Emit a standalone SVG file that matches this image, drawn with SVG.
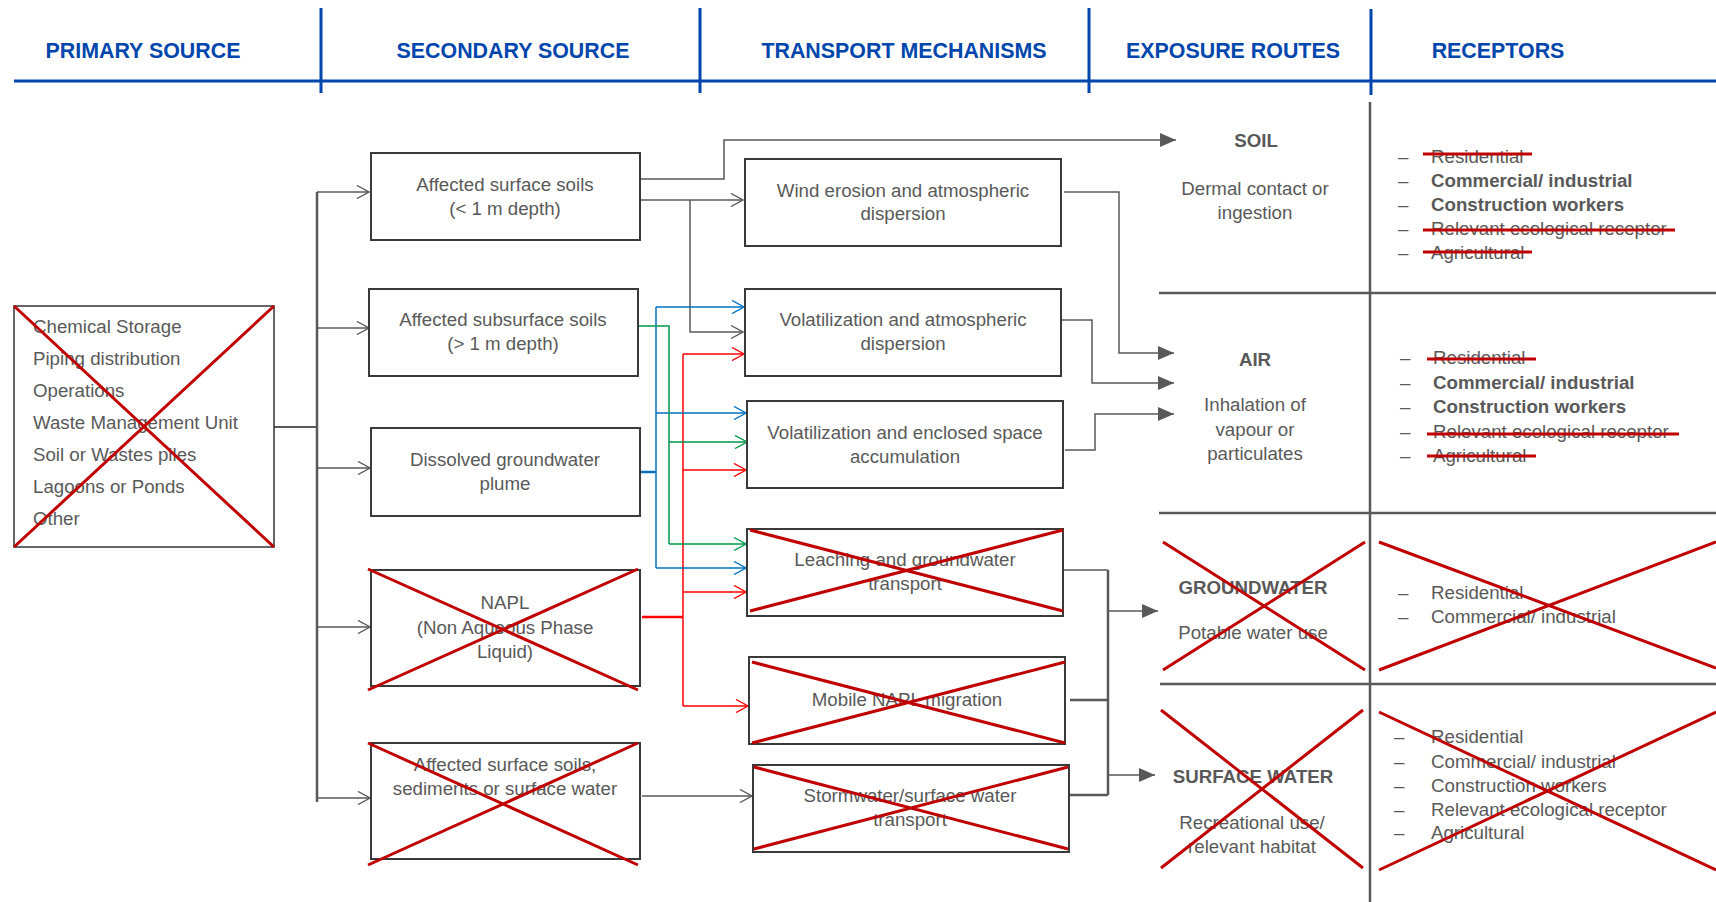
<svg xmlns="http://www.w3.org/2000/svg" width="1716" height="902" viewBox="0 0 1716 902">
<style>
text{font-family:"Liberation Sans",Arial,sans-serif;font-size:18.7px;fill:#595959}
.hd{font-size:21.4px;font-weight:bold;fill:#0046ad;text-anchor:middle}
.c{text-anchor:middle}
.b{font-weight:bold}
.hl{stroke:#0046ad;stroke-width:3;fill:none}
.box{fill:#fff;stroke:#3a3a3a;stroke-width:2}
.x{stroke:#c00000;stroke-width:3;fill:none}
.g{stroke:#595959;stroke-width:1.5;fill:none}
.gt{stroke:#595959;stroke-width:2.5;fill:none}
.r{stroke:#ff0000;stroke-width:1.5;fill:none}
.bl{stroke:#0070c0;stroke-width:1.5;fill:none}
.gr{stroke:#00984a;stroke-width:1.5;fill:none}
.grid{stroke:#595959;stroke-width:2.5;fill:none}
</style>
<defs>
<marker id="og" viewBox="0 0 14 14" refX="13" refY="7" markerWidth="14" markerHeight="14" markerUnits="userSpaceOnUse" orient="auto"><path d="M1,0.5 L13,7 L1,13.5" fill="none" stroke="#595959" stroke-width="1.4"/></marker>
<marker id="or" viewBox="0 0 14 14" refX="13" refY="7" markerWidth="14" markerHeight="14" markerUnits="userSpaceOnUse" orient="auto"><path d="M1,0.5 L13,7 L1,13.5" fill="none" stroke="#ff0000" stroke-width="1.4"/></marker>
<marker id="ob" viewBox="0 0 14 14" refX="13" refY="7" markerWidth="14" markerHeight="14" markerUnits="userSpaceOnUse" orient="auto"><path d="M1,0.5 L13,7 L1,13.5" fill="none" stroke="#0070c0" stroke-width="1.4"/></marker>
<marker id="ogr" viewBox="0 0 14 14" refX="13" refY="7" markerWidth="14" markerHeight="14" markerUnits="userSpaceOnUse" orient="auto"><path d="M1,0.5 L13,7 L1,13.5" fill="none" stroke="#00984a" stroke-width="1.4"/></marker>
<marker id="fg" viewBox="0 0 16 14" refX="16" refY="7" markerWidth="16" markerHeight="14" markerUnits="userSpaceOnUse" orient="auto"><path d="M0,0 L16,7 L0,14 Z" fill="#595959"/></marker>
</defs>
<rect width="1716" height="902" fill="#fff"/>

<g id="header">
<path class="hl" d="M14,81 H1716 M321,8 V93 M700,8 V93 M1089,8 V93 M1371,9 V95"/>
<text class="hd" x="143" y="58">PRIMARY SOURCE</text>
<text class="hd" x="513" y="58">SECONDARY SOURCE</text>
<text class="hd" x="904" y="58">TRANSPORT MECHANISMS</text>
<text class="hd" x="1233" y="58">EXPOSURE ROUTES</text>
<text class="hd" x="1498" y="58">RECEPTORS</text>
</g>

<g id="grid">
<path class="grid" d="M1370,102 V902 M1159,293 H1716 M1159,513 H1716 M1160,684 H1716"/>
</g>

<g id="connectors">
<path class="g" style="stroke-width:2" d="M274,427 H317"/>
<path class="gt" d="M317,192 V802"/>
<path class="g" marker-end="url(#og)" d="M317,192 H369"/>
<path class="g" marker-end="url(#og)" d="M317,328 H369"/>
<path class="g" marker-end="url(#og)" d="M317,468 H370"/>
<path class="g" marker-end="url(#og)" d="M317,627 H370"/>
<path class="g" marker-end="url(#og)" d="M317,798 H370"/>
<path class="g" marker-end="url(#fg)" d="M640,179 H724 V140 H1176"/>
<path class="g" marker-end="url(#og)" d="M640,200 H743"/>
<path class="g" marker-end="url(#og)" d="M690,200 V332 H743"/>
<path class="g" marker-end="url(#og)" d="M642,796 H752"/>
<path class="g" marker-end="url(#fg)" d="M1064,192 H1119 V353 H1174"/>
<path class="g" marker-end="url(#fg)" d="M1061,320 H1092 V383 H1174"/>
<path class="g" marker-end="url(#fg)" d="M1065,450 H1095 V414 H1174"/>
<path class="g" d="M1063,570 H1108"/>
<path class="gt" d="M1108,570 V795"/>
<path class="gt" d="M1070,700 H1108 M1069,795 H1108"/>
<path class="g" marker-end="url(#fg)" d="M1108,611 H1158"/>
<path class="g" marker-end="url(#fg)" d="M1108,775 H1155"/>

<path class="r" style="stroke-width:2.5" d="M642,617 H683"/>
<path class="r" d="M683,354 V706"/>
<path class="r" marker-end="url(#or)" d="M683,354 H744"/>
<path class="r" marker-end="url(#or)" d="M683,470 H746"/>
<path class="r" marker-end="url(#or)" d="M683,592 H746"/>
<path class="r" marker-end="url(#or)" d="M683,706 H748"/>

<path class="bl" style="stroke-width:2.5" d="M640,472 H656"/>
<path class="bl" d="M656,307 V568"/>
<path class="bl" marker-end="url(#ob)" d="M656,307 H744"/>
<path class="bl" marker-end="url(#ob)" d="M656,413 H746"/>
<path class="bl" marker-end="url(#ob)" d="M656,568 H746"/>

<path class="gr" d="M638,326 H669 V544"/>
<path class="gr" marker-end="url(#ogr)" d="M669,442 H747"/>
<path class="gr" marker-end="url(#ogr)" d="M669,544 H746"/>
</g>

<g id="primary-source">
<rect x="14" y="306" width="260" height="241" fill="#fff" stroke="#333" stroke-width="1.5"/>
<text x="33" y="333">Chemical Storage</text>
<text x="33" y="365">Piping distribution</text>
<text x="33" y="397">Operations</text>
<text x="33" y="429">Waste Management Unit</text>
<text x="33" y="461">Soil or Wastes piles</text>
<text x="33" y="493">Lagoons or Ponds</text>
<text x="33" y="525">Other</text>
<path class="x" d="M14,306 L274,547 M14,547 L274,306"/>
</g>

<g id="surface-soils">
<rect class="box" x="371" y="153" width="269" height="87"/>
<text class="c" x="505" y="191">Affected surface soils</text>
<text class="c" x="505" y="215">(&lt; 1 m depth)</text>
</g>
<g id="subsurface-soils">
<rect class="box" x="369" y="289" width="269" height="87"/>
<text class="c" x="503" y="326">Affected subsurface soils</text>
<text class="c" x="503" y="350">(&gt; 1 m depth)</text>
</g>
<g id="dissolved-plume">
<rect class="box" x="371" y="428" width="269" height="88"/>
<text class="c" x="505" y="466">Dissolved groundwater</text>
<text class="c" x="505" y="490">plume</text>
</g>
<g id="napl">
<rect class="box" x="371" y="570" width="269" height="116"/>
<text class="c" x="505" y="609">NAPL</text>
<text class="c" x="505" y="634">(Non Aqueous Phase</text>
<text class="c" x="505" y="658">Liquid)</text>
<path class="x" d="M368,569 L638,690 M368,690 L638,569"/>
</g>
<g id="surface-sediments">
<rect class="box" x="371" y="743" width="269" height="116"/>
<text class="c" x="505" y="771">Affected surface soils,</text>
<text class="c" x="505" y="795">sediments or surface water</text>
<path class="x" d="M368,743 L638,865 M368,865 L638,743"/>
</g>

<g id="wind-erosion">
<rect class="box" x="745" y="159" width="316" height="87"/>
<text class="c" x="903" y="197">Wind erosion and atmospheric</text>
<text class="c" x="903" y="220">dispersion</text>
</g>
<g id="vol-atmospheric">
<rect class="box" x="745" y="289" width="316" height="87"/>
<text class="c" x="903" y="326">Volatilization and atmospheric</text>
<text class="c" x="903" y="350">dispersion</text>
</g>
<g id="vol-enclosed">
<rect class="box" x="747" y="401" width="316" height="87"/>
<text class="c" x="905" y="439">Volatilization and enclosed space</text>
<text class="c" x="905" y="463">accumulation</text>
</g>
<g id="leaching">
<rect class="box" x="747" y="529" width="316" height="87"/>
<text class="c" x="905" y="566">Leaching and groundwater</text>
<text class="c" x="905" y="590">transport</text>
<path class="x" d="M750,530 L1063,611 M750,611 L1063,530"/>
</g>
<g id="mobile-napl">
<rect class="box" x="749" y="657" width="316" height="87"/>
<text class="c" x="907" y="706">Mobile NAPL migration</text>
<path class="x" d="M752,662 L1065,743 M752,743 L1065,662"/>
</g>
<g id="stormwater">
<rect class="box" x="753" y="765" width="316" height="87"/>
<text class="c" x="910" y="802">Stormwater/surface water</text>
<text class="c" x="910" y="826">transport</text>
<path class="x" d="M754,767 L1068,849 M754,849 L1068,767"/>
</g>

<g id="exp-soil">
<text class="c b" x="1256" y="147">SOIL</text>
<text class="c" x="1255" y="195">Dermal contact or</text>
<text class="c" x="1255" y="219">ingestion</text>
</g>
<g id="exp-air">
<text class="c b" x="1255" y="366">AIR</text>
<text class="c" x="1255" y="411">Inhalation of</text>
<text class="c" x="1255" y="436">vapour or</text>
<text class="c" x="1255" y="460">particulates</text>
</g>
<g id="exp-groundwater">
<text class="c b" x="1253" y="594">GROUNDWATER</text>
<text class="c" x="1253" y="639">Potable water use</text>
<path class="x" d="M1163,542 L1365,670 M1163,670 L1365,542"/>
</g>
<g id="exp-surface-water">
<text class="c b" x="1253" y="783">SURFACE WATER</text>
<text class="c" x="1252" y="829">Recreational use/</text>
<text class="c" x="1252" y="853">relevant habitat</text>
<path class="x" d="M1161,710 L1363,868 M1161,868 L1363,710"/>
</g>

<g id="rec-soil">
<text x="1398" y="163">–</text><text x="1431" y="163">Residential</text>
<text x="1398" y="187">–</text><text class="b" x="1431" y="187">Commercial/ industrial</text>
<text x="1398" y="211">–</text><text class="b" x="1431" y="211">Construction workers</text>
<text x="1398" y="235">–</text><text x="1431" y="235">Relevant ecological receptor</text>
<text x="1398" y="259">–</text><text x="1431" y="259">Agricultural</text>
<path class="x" d="M1423,154 H1532 M1423,230 H1675 M1423,252 H1532"/>
</g>
<g id="rec-air">
<text x="1400" y="364">–</text><text x="1433" y="364">Residential</text>
<text x="1400" y="389">–</text><text class="b" x="1433" y="389">Commercial/ industrial</text>
<text x="1400" y="413">–</text><text class="b" x="1433" y="413">Construction workers</text>
<text x="1400" y="438">–</text><text x="1433" y="438">Relevant ecological receptor</text>
<text x="1400" y="462">–</text><text x="1433" y="462">Agricultural</text>
<path class="x" d="M1427,359 H1536 M1427,434 H1679 M1427,456 H1536"/>
</g>
<g id="rec-groundwater">
<text x="1398" y="599">–</text><text x="1431" y="599">Residential</text>
<text x="1398" y="623">–</text><text x="1431" y="623">Commercial/ industrial</text>
<path class="x" d="M1379,542 L1716,668 M1379,670 L1716,542"/>
</g>
<g id="rec-surface-water">
<text x="1394" y="743">–</text><text x="1431" y="743">Residential</text>
<text x="1394" y="768">–</text><text x="1431" y="768">Commercial/ industrial</text>
<text x="1394" y="792">–</text><text x="1431" y="792">Construction workers</text>
<text x="1394" y="816">–</text><text x="1431" y="816">Relevant ecological receptor</text>
<text x="1394" y="839">–</text><text x="1431" y="839">Agricultural</text>
<path class="x" d="M1379,712 L1716,870 M1379,870 L1716,712"/>
</g>
</svg>
